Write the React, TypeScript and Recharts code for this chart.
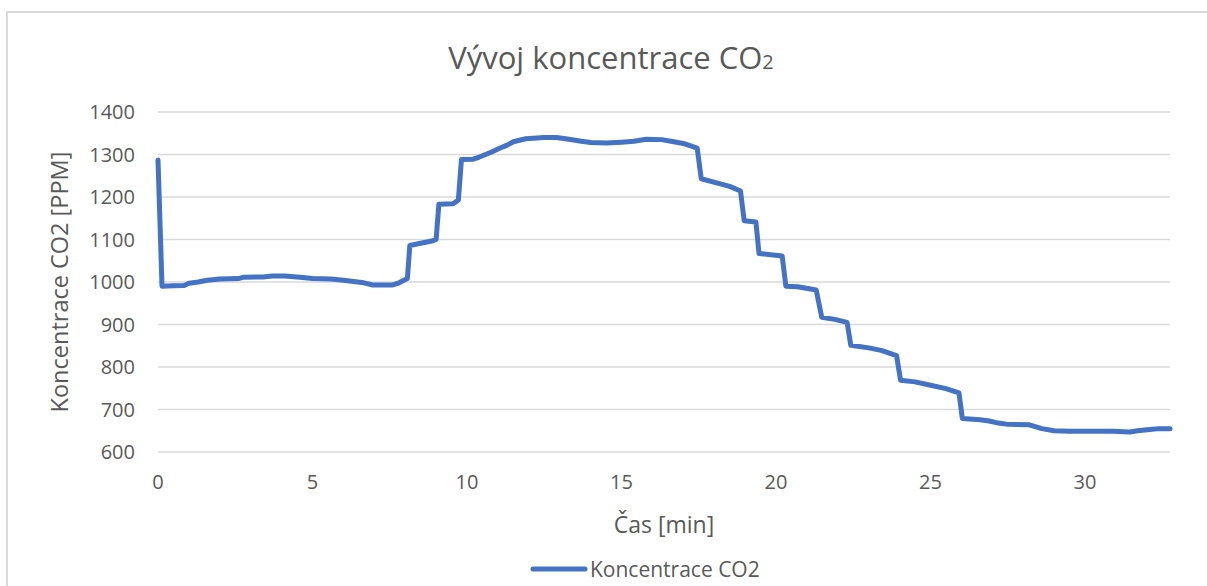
import React from 'react';
import { LineChart, Line, XAxis, YAxis, CartesianGrid, Legend } from 'recharts';

const chartTitle = 'Vývoj koncentrace CO';
const chartTitleSub = '2';
const xAxisTitle = 'Čas [min]';
const yAxisTitle = 'Koncentrace CO2 [PPM]';
const seriesName = 'Koncentrace CO2';

const timeMin = [
  0, 0.13, 0.5, 0.85, 1.0, 1.3, 1.6, 2.0, 2.6, 2.75, 3.4, 3.7, 4.1, 4.6, 5.0, 5.6, 6.0, 6.6, 6.95, 7.6,
  7.8, 8.07, 8.15, 8.5, 8.9, 9.0, 9.09, 9.55, 9.72, 9.82, 10.2, 10.4, 10.8, 11.0, 11.3, 11.5, 11.9, 12.5,
  12.9, 13.3, 13.7, 14.0, 14.5, 15.0, 15.4, 15.8, 16.3, 16.6, 17.0, 17.45, 17.58, 18.2, 18.5, 18.85, 18.97,
  19.35, 19.45, 20.2, 20.32, 20.7, 21.3, 21.48, 21.9, 22.3, 22.42, 23.0, 23.4, 23.9, 24.03, 24.5, 25.0,
  25.5, 25.92, 26.03, 26.6, 26.9, 27.2, 27.5, 28.2, 28.6, 29.0, 29.5, 30.9, 31.45, 31.7, 32.1, 32.4, 32.75,
];
const co2Ppm = [
  1287, 990, 991, 992, 997, 1000, 1004, 1007, 1008, 1011, 1012, 1014, 1014, 1011, 1008, 1007, 1004, 999, 993, 993,
  998, 1008, 1086, 1091, 1097, 1100, 1183, 1184, 1193, 1288, 1289, 1294, 1306, 1313, 1322, 1330, 1337, 1340,
  1340, 1336, 1331, 1328, 1327, 1329, 1331, 1336, 1335, 1331, 1326, 1315, 1243, 1231, 1225, 1214, 1144,
  1141, 1067, 1061, 990, 989, 981, 917, 912, 905, 851, 845, 839, 827, 769, 765, 757,
  749, 739, 679, 676, 673, 668, 665, 664, 655, 650, 649, 649, 647, 650, 653, 655, 655,
];
const xTicks = [0, 5, 10, 15, 20, 25, 30];
const yTicks = [600, 700, 800, 900, 1000, 1100, 1200, 1300, 1400];

const data = timeMin.map((t, i) => ({ t, v: co2Ppm[i] }));

const TEXT = '#595959';
const BLUE = '#4472C4';

const XLabel = (props: any) => {
  const vb = props.viewBox || { x: 158, y: 452, width: 1012, height: 100 };
  return (
    <text x={vb.x + vb.width / 2} y={vb.y + 81} textAnchor="middle" fontSize={23} fill={TEXT}>
      {xAxisTitle}
    </text>
  );
};

const YLabel = (props: any) => {
  const vb = props.viewBox || { x: 0, y: 112, width: 158, height: 340 };
  const cx = vb.x + 68;
  const cy = vb.y + vb.height / 2;
  return (
    <text x={cx} y={cy} transform={`rotate(-90 ${cx} ${cy})`} textAnchor="middle" fontSize={23.5} fill={TEXT}>
      {yAxisTitle}
    </text>
  );
};

const LegendContent = () => (
  <div style={{ display: 'flex', alignItems: 'center', height: 34 }}>
    <svg width={60} height={10}>
      <line x1={3} y1={5} x2={55} y2={5} stroke={BLUE} strokeWidth={5} strokeLinecap="round" />
    </svg>
    <span style={{ fontSize: 21, color: TEXT, marginLeft: 0, whiteSpace: 'nowrap' }}>{seriesName}</span>
  </div>
);

export default function App() {
  return (
    <div
      style={{
        position: 'absolute',
        left: 0,
        top: 0,
        width: 1207,
        height: 586,
        overflow: 'hidden',
        background: '#fff',
        fontFamily: '"Open Sans", sans-serif',
      }}
    >
      <div
        style={{
          position: 'absolute',
          left: 6,
          top: 11,
          width: 1240,
          height: 640,
          border: '2px solid #d9d9d9',
          boxSizing: 'border-box',
        }}
      />
      <div style={{ position: 'absolute', left: 0, top: 0 }}>
        <LineChart width={1207} height={586} data={data} margin={{ top: 112, right: 37, bottom: 0, left: 0 }}>
          <CartesianGrid vertical={false} stroke="#d9d9d9" strokeWidth={1.5} />
          <XAxis
            dataKey="t"
            type="number"
            domain={[0, 32.75]}
            ticks={xTicks}
            axisLine={false}
            tickLine={false}
            tickSize={0}
            tickMargin={23}
            height={100}
            tick={{ fill: TEXT, fontSize: 20 }}
            label={XLabel}
          />
          <YAxis
            type="number"
            domain={[600, 1400]}
            ticks={yTicks}
            axisLine={false}
            tickLine={false}
            tickSize={0}
            tickMargin={23}
            width={158}
            tick={{ fill: TEXT, fontSize: 20 }}
            label={YLabel}
          />
          <Legend
            verticalAlign="bottom"
            align="left"
            content={LegendContent}
            wrapperStyle={{ left: 530, width: 300, height: 34 }}
          />
          <Line
            type="linear"
            dataKey="v"
            name={seriesName}
            stroke={BLUE}
            strokeWidth={5}
            strokeLinejoin="round"
            strokeLinecap="round"
            dot={false}
            activeDot={false}
            isAnimationActive={false}
          />
        </LineChart>
      </div>
      <svg
        width={1207}
        height={100}
        style={{ position: 'absolute', left: 0, top: 0, pointerEvents: 'none' }}
      >
        <text x={611} y={69} textAnchor="middle" fontSize={31} fontWeight={400} fill={TEXT}>
          {chartTitle}
          <tspan fontSize={20}>{chartTitleSub}</tspan>
        </text>
      </svg>
    </div>
  );
}
